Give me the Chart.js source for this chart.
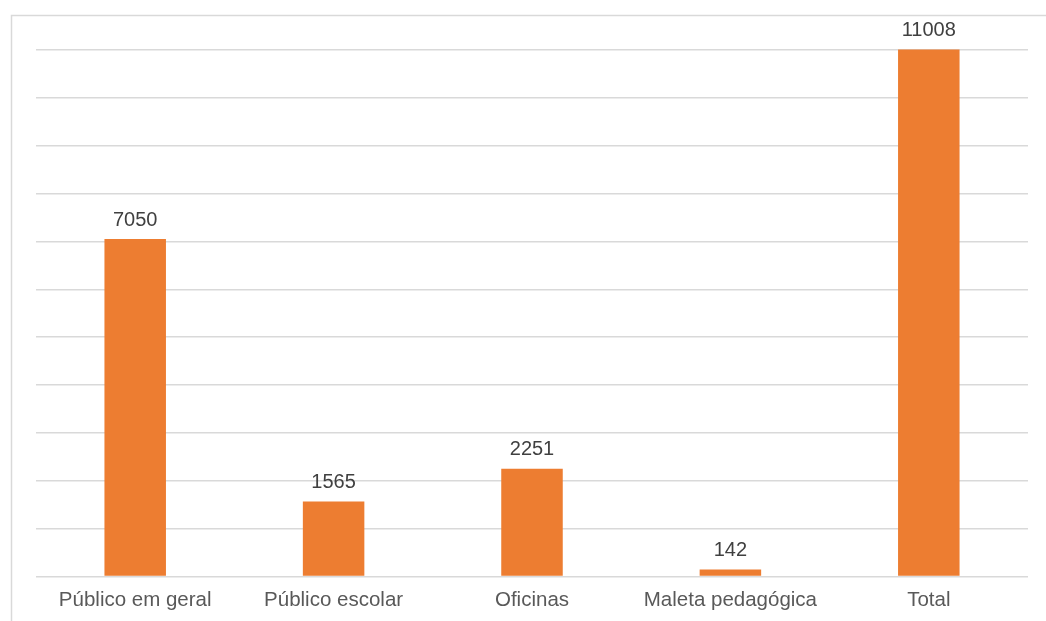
<!DOCTYPE html>
<html>
<head>
<meta charset="utf-8">
<script src="https://cdn.jsdelivr.net/npm/chart.js@4/dist/chart.umd.min.js"></script>
<style>
  html, body { margin: 0; padding: 0; background: #fff; overflow: hidden; }
  canvas { display: block; }
</style>
</head>
<body>
<canvas id="publicoChart" width="1046" height="621"></canvas>
<script>
// Categorias e valores do gráfico
const categorias = ['Público em geral', 'Público escolar', 'Oficinas', 'Maleta pedagógica', 'Total'];
const valores = [7050, 1565, 2251, 142, 11008];

// Moldura cinza (topo e lado esquerdo)
const framePlugin = {
  id: 'frame',
  beforeDraw(chart) {
    const ctx = chart.ctx;
    ctx.save();
    ctx.strokeStyle = '#d9d9d9';
    ctx.lineWidth = 1.5;
    ctx.beginPath();
    ctx.moveTo(11.5, chart.height);
    ctx.lineTo(11.5, 15.5);
    ctx.lineTo(chart.width, 15.5);
    ctx.stroke();
    ctx.restore();
  }
};

// Rótulos de valor acima de cada barra
const valueLabels = {
  id: 'valueLabels',
  afterDatasetsDraw(chart) {
    const ctx = chart.ctx;
    const meta = chart.getDatasetMeta(0);
    ctx.save();
    ctx.font = '20px "Liberation Sans", Arial, sans-serif';
    ctx.fillStyle = '#404040';
    ctx.textAlign = 'center';
    ctx.textBaseline = 'bottom';
    meta.data.forEach((bar, i) => {
      ctx.fillText(String(valores[i]), bar.x, bar.y - 9);
    });
    ctx.restore();
  }
};

function createChart() {
  const ctx = document.getElementById('publicoChart').getContext('2d');
  new Chart(ctx, {
    type: 'bar',
    data: {
      labels: categorias,
      datasets: [{
        data: valores,
        backgroundColor: '#ed7d31',
        borderWidth: 0,
        categoryPercentage: 0.31,
        barPercentage: 1,
        clip: false
      }]
    },
    options: {
      responsive: false,
      animation: false,
      layout: { padding: { left: 36, right: 18, top: 50, bottom: -4 } },
      plugins: { legend: { display: false }, tooltip: { enabled: false } },
      scales: {
        x: {
          grid: { display: false, drawTicks: false },
          border: { display: false },
          ticks: {
            padding: 12,
            color: '#595959',
            font: { family: '"Liberation Sans", Arial, sans-serif', size: 20.5 },
            maxRotation: 0,
            autoSkip: false
          }
        },
        y: {
          min: 0,
          max: 11000,
          ticks: { display: false, stepSize: 1000 },
          grid: { color: '#d9d9d9', lineWidth: 1.5, drawTicks: false },
          border: { display: false }
        }
      }
    },
    plugins: [framePlugin, valueLabels]
  });
}

window.addEventListener('load', createChart);
</script>
</body>
</html>
